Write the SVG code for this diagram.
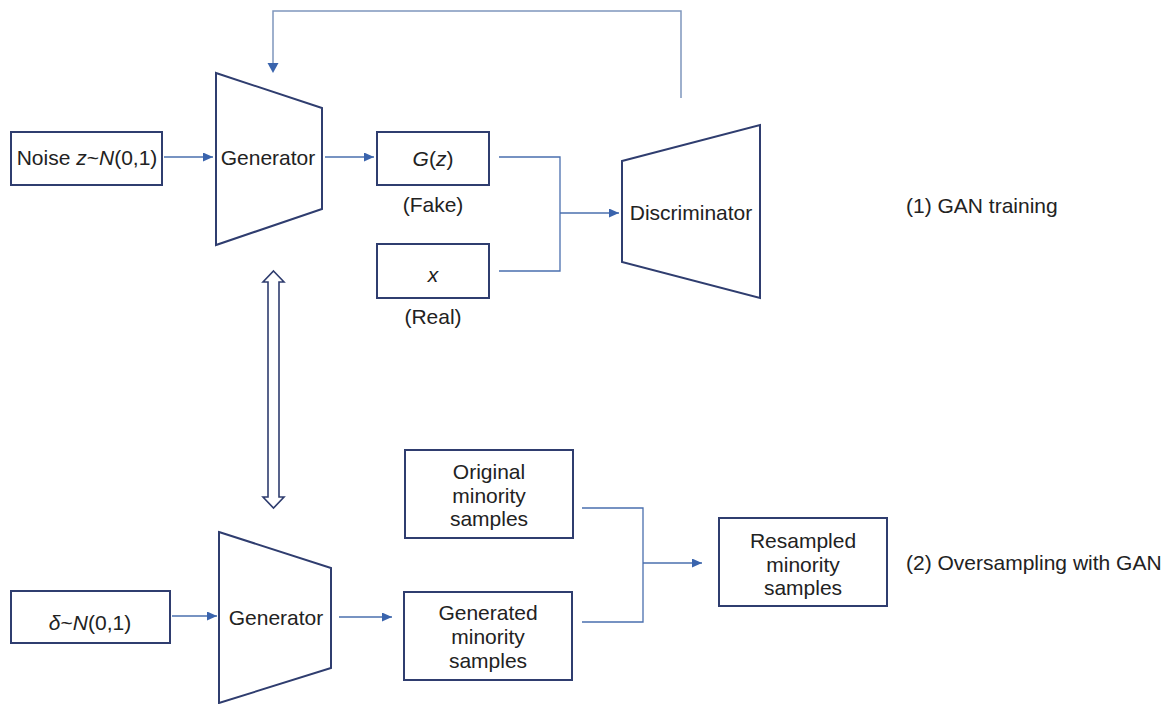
<svg xmlns="http://www.w3.org/2000/svg" width="1173" height="704" viewBox="0 0 1173 704">
<style>
.box{fill:#fff;stroke:#2f3d6f;stroke-width:2}
.trap{fill:#fff;stroke:#2f3d6f;stroke-width:2;stroke-linejoin:miter}
.ln{fill:none;stroke:#4a6fae;stroke-width:1.3}
.fb{fill:none;stroke:#7f97bd;stroke-width:1.5}
.t{font-family:"Liberation Sans",Arial,sans-serif;font-size:21px;fill:#222}
.c{text-anchor:middle}
.i{font-style:italic}
</style>
<defs>
<marker id="ah" markerUnits="userSpaceOnUse" markerWidth="11" markerHeight="10" refX="10" refY="4.5" orient="auto">
<path d="M0,0 L10,4.5 L0,9 z" fill="#3a64ad"/>
</marker>
</defs>
<rect width="1173" height="704" fill="#fff"/>
<g id="connectors">
<path class="ln" d="M164,157 H213" marker-end="url(#ah)"/>
<path class="ln" d="M325,157 H374" marker-end="url(#ah)"/>
<path class="ln" d="M499,157 H560 V271 H499"/>
<path class="ln" d="M560,213 H619" marker-end="url(#ah)"/>
<path class="fb" d="M681,98 V11 H273 V63"/>
<path d="M267.5,63 L278.5,63 L273,73 z" fill="#3a64ad"/>
<path class="ln" d="M172,616 H217" marker-end="url(#ah)"/>
<path class="ln" d="M339,617 H392" marker-end="url(#ah)"/>
<path class="ln" d="M582,508 H643 V622 H582"/>
<path class="ln" d="M643,563 H702" marker-end="url(#ah)"/>
<polygon id="double-arrow" points="273.5,271 284,282 279,282 279,497 284,497 273.5,508 263,497 268,497 268,282 263,282" fill="#fff" stroke="#2f3d6f" stroke-width="1.6" stroke-linejoin="miter"/>
</g>
<g id="noise">
<rect class="box" x="11" y="132" width="151" height="53"/>
<text class="t c" x="87" y="164.5">Noise <tspan class="i">z</tspan>~<tspan class="i">N</tspan>(0,1)</text>
</g>
<g id="generator-top">
<polygon class="trap" points="216,73 322,108 322,209 216,245"/>
<text class="t c" x="268" y="164.5">Generator</text>
</g>
<g id="gz">
<rect class="box" x="377" y="132" width="112" height="53"/>
<text class="t c" x="433" y="166"><tspan class="i">G</tspan>(<tspan class="i">z</tspan>)</text>
<text class="t c" x="433" y="212">(Fake)</text>
</g>
<g id="real">
<rect class="box" x="377" y="244" width="112" height="54"/>
<text class="t c i" x="433" y="282">x</text>
<text class="t c" x="433" y="324">(Real)</text>
</g>
<g id="discriminator">
<polygon class="trap" points="622,161 760,125 760,298 622,262"/>
<text class="t c" x="691" y="220">Discriminator</text>
</g>
<g id="label1">
<text class="t" x="906" y="213">(1) GAN training</text>
</g>
<g id="delta">
<rect class="box" x="11" y="591" width="159" height="52"/>
<text class="t c" x="90" y="630"><tspan class="i">δ</tspan>~<tspan class="i">N</tspan>(0,1)</text>
</g>
<g id="generator-bottom">
<polygon class="trap" points="219,532 331,568 331,668 219,703"/>
<text class="t c" x="276" y="625">Generator</text>
</g>
<g id="original">
<rect class="box" x="405" y="450" width="168" height="88"/>
<text class="t c" x="489" y="479">Original</text>
<text class="t c" x="489" y="502.5">minority</text>
<text class="t c" x="489" y="526">samples</text>
</g>
<g id="generated">
<rect class="box" x="404" y="592" width="168" height="88"/>
<text class="t c" x="488" y="620">Generated</text>
<text class="t c" x="488" y="644">minority</text>
<text class="t c" x="488" y="667.5">samples</text>
</g>
<g id="resampled">
<rect class="box" x="719" y="518" width="168" height="88"/>
<text class="t c" x="803" y="548">Resampled</text>
<text class="t c" x="803" y="571.5">minority</text>
<text class="t c" x="803" y="595">samples</text>
</g>
<g id="label2">
<text class="t" x="906" y="570">(2) Oversampling with GAN</text>
</g>
</svg>
